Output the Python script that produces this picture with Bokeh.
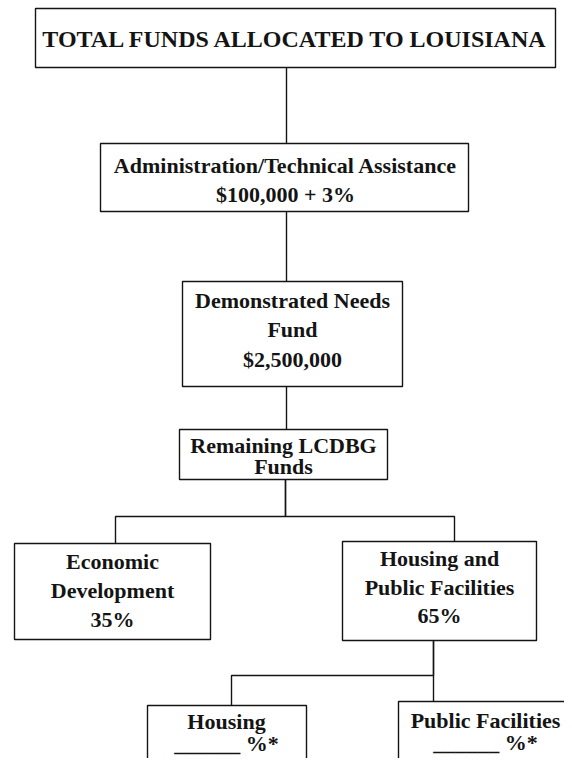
from bokeh.plotting import figure
from bokeh.models import Range1d, ColumnDataSource
from bokeh.core.properties import value
from bokeh.embed import file_html
from bokeh.resources import INLINE

# ---- chart content ----
node_ids = ["total", "admin", "needs", "remaining", "econ", "hpf", "housing", "public"]
node_lines = [
    ["TOTAL FUNDS ALLOCATED TO LOUISIANA"],
    ["Administration/Technical Assistance", "$100,000 + 3%"],
    ["Demonstrated Needs", "Fund", "$2,500,000"],
    ["Remaining LCDBG", "Funds"],
    ["Economic", "Development", "35%"],
    ["Housing and", "Public Facilities", "65%"],
    ["Housing", "______ %*"],
    ["Public Facilities", "______ %*"],
]
edge_parents = ["total", "admin", "needs", "remaining", "remaining", "hpf", "hpf"]
edge_children = ["admin", "needs", "remaining", "econ", "hpf", "housing", "public"]

# ---- layout (figure pixels) ----
box_left = [35, 100, 182, 179, 14, 342, 147, 398]
box_right = [555, 468, 402, 387, 210, 536, 306, 600]
box_top = [8, 143, 281, 429, 543, 541, 705, 701]
box_bottom = [67, 211, 386, 479, 639, 640, 800, 800]
line_y = [
    [38],
    [165, 194],
    [300, 329, 359],
    [445, 466],
    [561, 590, 619],
    [558, 587, 615],
    [721, 743],
    [720, 742],
]
text_cx = [295, 285, 292, 283, 112, 439, 226, 485]
text_px = [24, 22, 22, 22, 22, 22, 22, 22]
edge_stem_x = [286, 286, 286, 285, 285, 433, 433]
edge_bar_y = [0, 0, 0, 516, 516, 675, 675]
edge_drop_x = [286, 286, 286, 115, 454, 231, 433]

FONT = "Liberation Serif"
INK = "#141414"

p = figure(width=564, height=758, x_range=Range1d(0, 564), y_range=Range1d(758, 0),
           output_backend="svg", toolbar_location=None, min_border=0)
p.axis.visible = False
p.grid.visible = False
p.outline_line_color = None
p.background_fill_color = "white"
p.border_fill_color = "white"

# connectors
idx = {n: i for i, n in enumerate(node_ids)}
xs, ys = [], []
for par, ch, sx, by, dx in zip(edge_parents, edge_children, edge_stem_x, edge_bar_y, edge_drop_x):
    pi, ci = idx[par], idx[ch]
    if sx == dx:
        xs.append([sx, sx])
        ys.append([box_bottom[pi], box_top[ci]])
    else:
        xs.append([sx, sx, dx, dx])
        ys.append([box_bottom[pi], by, by, box_top[ci]])
p.multi_line(xs=xs, ys=ys, line_color=INK, line_width=1.4)

# boxes
p.quad(left=box_left, right=box_right, top=box_top, bottom=box_bottom,
       fill_color="white", line_color=INK, line_width=1.4)

# texts
tx, ty, tt, ts = [], [], [], []
for i, lines in enumerate(node_lines):
    for j, s in enumerate(lines):
        tx.append(text_cx[i])
        ty.append(line_y[i][j])
        tt.append(s)
        ts.append(f"{text_px[i]}px")
src = ColumnDataSource(dict(x=tx, y=ty, text=tt, size=ts))
p.text(x="x", y="y", text="text", source=src, text_font=value(FONT),
       text_font_style="bold", text_font_size="size", text_color=INK,
       text_align="center", text_baseline="middle")

open("out.html", "w").write(file_html(p, INLINE))
